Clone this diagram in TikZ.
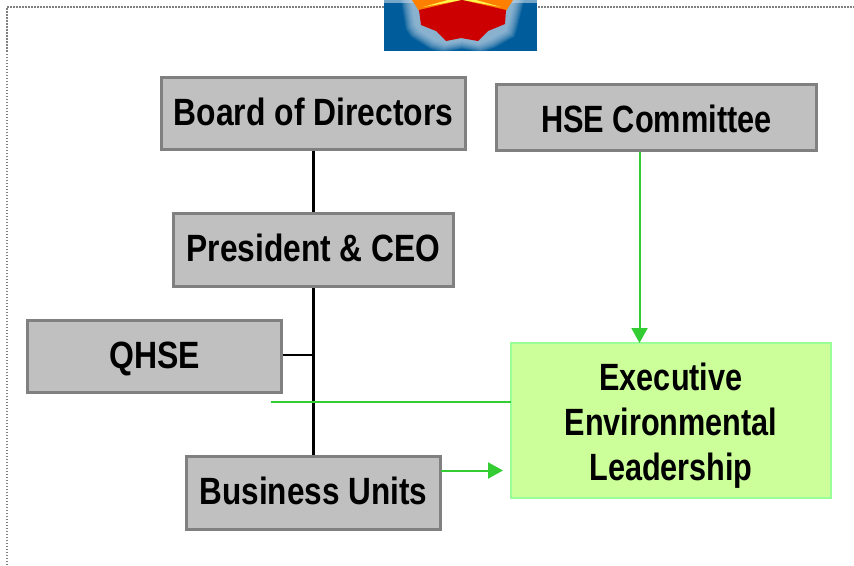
\documentclass[tikz,border=0pt]{standalone}
\usepackage{fontspec}
\setmainfont{Liberation Sans}[FakeStretch=0.825]
\usetikzlibrary{arrows.meta}
\definecolor{boxfill}{HTML}{C0C0C0}
\definecolor{boxline}{HTML}{808080}
\definecolor{grn}{HTML}{33CC33}
\definecolor{execfill}{HTML}{CCFF99}
\definecolor{execline}{HTML}{99FF99}
\definecolor{logoblue}{HTML}{005C9A}
\definecolor{halo}{HTML}{C4D8E8}
\definecolor{logored}{HTML}{CC0000}
\newcommand{\txt}[3]{\raisebox{#2}[0pt][0pt]{\scalebox{#1}[1]{#3}}}
\tikzset{
  graybox/.style={draw=boxline,line width=2.6pt,fill=boxfill,inner sep=0pt,font=\fontsize{38}{45}\selectfont\bfseries,align=center},
  execbox/.style={draw=execline,line width=2.2pt,fill=execfill,inner sep=0pt,font=\fontsize{38}{45}\selectfont\bfseries,align=center},
  blk/.style={draw=black,line width=2.2pt},
  grnline/.style={draw=grn,line width=2pt},
  grnarrow/.style={grnline,-{Triangle[length=15pt,width=16pt,fill=grn]}},
}
\begin{document}
\begin{tikzpicture}[x=1pt,y=-1pt]
\useasboundingbox (0,0) rectangle (854,565);
\fill[white] (0,0) rectangle (854,565);
% page frame
\draw[draw=gray,line width=1.5pt,dash pattern=on 1.5pt off 1.5pt] (7,565) -- (7,7) -- (854,7);
% logo
\fill[logoblue] (384,0) rectangle (537,51);
\fill[halo!60!logoblue] (384,0) rectangle (537,3);
\foreach \s in {1.22,1.20,...,1.0}{
  \fill[halo,opacity=.11,shift={(462,0)},xscale=\s,yscale=\s]
    (-50,0) -- (-46,24) -- (-42,30) -- (-26,40) -- (-16,43) -- (0,40) -- (16,43) -- (27,39) -- (43,30) -- (45,24) -- (51,0) -- cycle;
}
\fill[orange] (412,0) -- (419,11) -- (462,0) -- cycle;
\fill[orange] (462,0) -- (506,11) -- (513,0) -- cycle;
\fill[yellow!70!white] (423,7) -- (462,0) -- (448,0) -- cycle;
\fill[yellow!70!white] (501,7) -- (462,0) -- (476,0) -- cycle;
\fill[logored] (419,10) -- (462,0) -- (506,10) -- (505,24) -- (488,31) -- (478,41) -- (461,38) -- (446,41) -- (436,31) -- (421,25) -- cycle;
% boxes
\node[graybox,minimum width=303.5pt,minimum height=72.5pt] (board) at (313.5,113.5) {\txt{1.015}{-11.5pt}{Board of Directors}};
\node[graybox,minimum width=319.5pt,minimum height=66.5pt] (hse) at (656.5,117.5) {\txt{0.98}{-14.8pt}{HSE Committee}};
\node[graybox,minimum width=279.5pt,minimum height=73.5pt] (ceo) at (313.5,250) {\txt{1.012}{-11.7pt}{President \& CEO}};
\node[graybox,minimum width=254.5pt,minimum height=72.5pt] (qhse) at (154.5,356.5) {\txt{1.02}{-11.5pt}{QHSE}};
\node[graybox,minimum width=254.5pt,minimum height=73.5pt] (bu) at (313.5,493) {\txt{1.005}{-11pt}{Business Units}};
\node[execbox,minimum width=319.5pt,minimum height=154.5pt] (exec) at (671,420.5) {\rule{0pt}{39pt}\scalebox{0.977}[1]{Executive}\\\scalebox{0.977}[1]{Environmental}\\\rule[-10pt]{0pt}{10pt}\scalebox{0.977}[1]{Leadership}};
% connectors
\coordinate (qjoin) at (313.5,355);
\coordinate (gfree) at (271,402);
\coordinate (gend) at (511,402);
\coordinate (hsefoot) at (639.5,152);
\coordinate (hsetip) at (639.5,343);
\coordinate (bustart) at (441,470.5);
\coordinate (butip) at (503,470.5);
\draw[blk] (board.south) -- (ceo.north);
\draw[blk] (ceo.south) -- (bu.north);
\draw[blk] (qhse.east |- qjoin) -- (qjoin);
\draw[grnline] (gfree) -- (gend);
\draw[grnarrow] (hsefoot) -- (hsetip);
\draw[grnarrow] (bustart) -- (butip);
\end{tikzpicture}
\end{document}
